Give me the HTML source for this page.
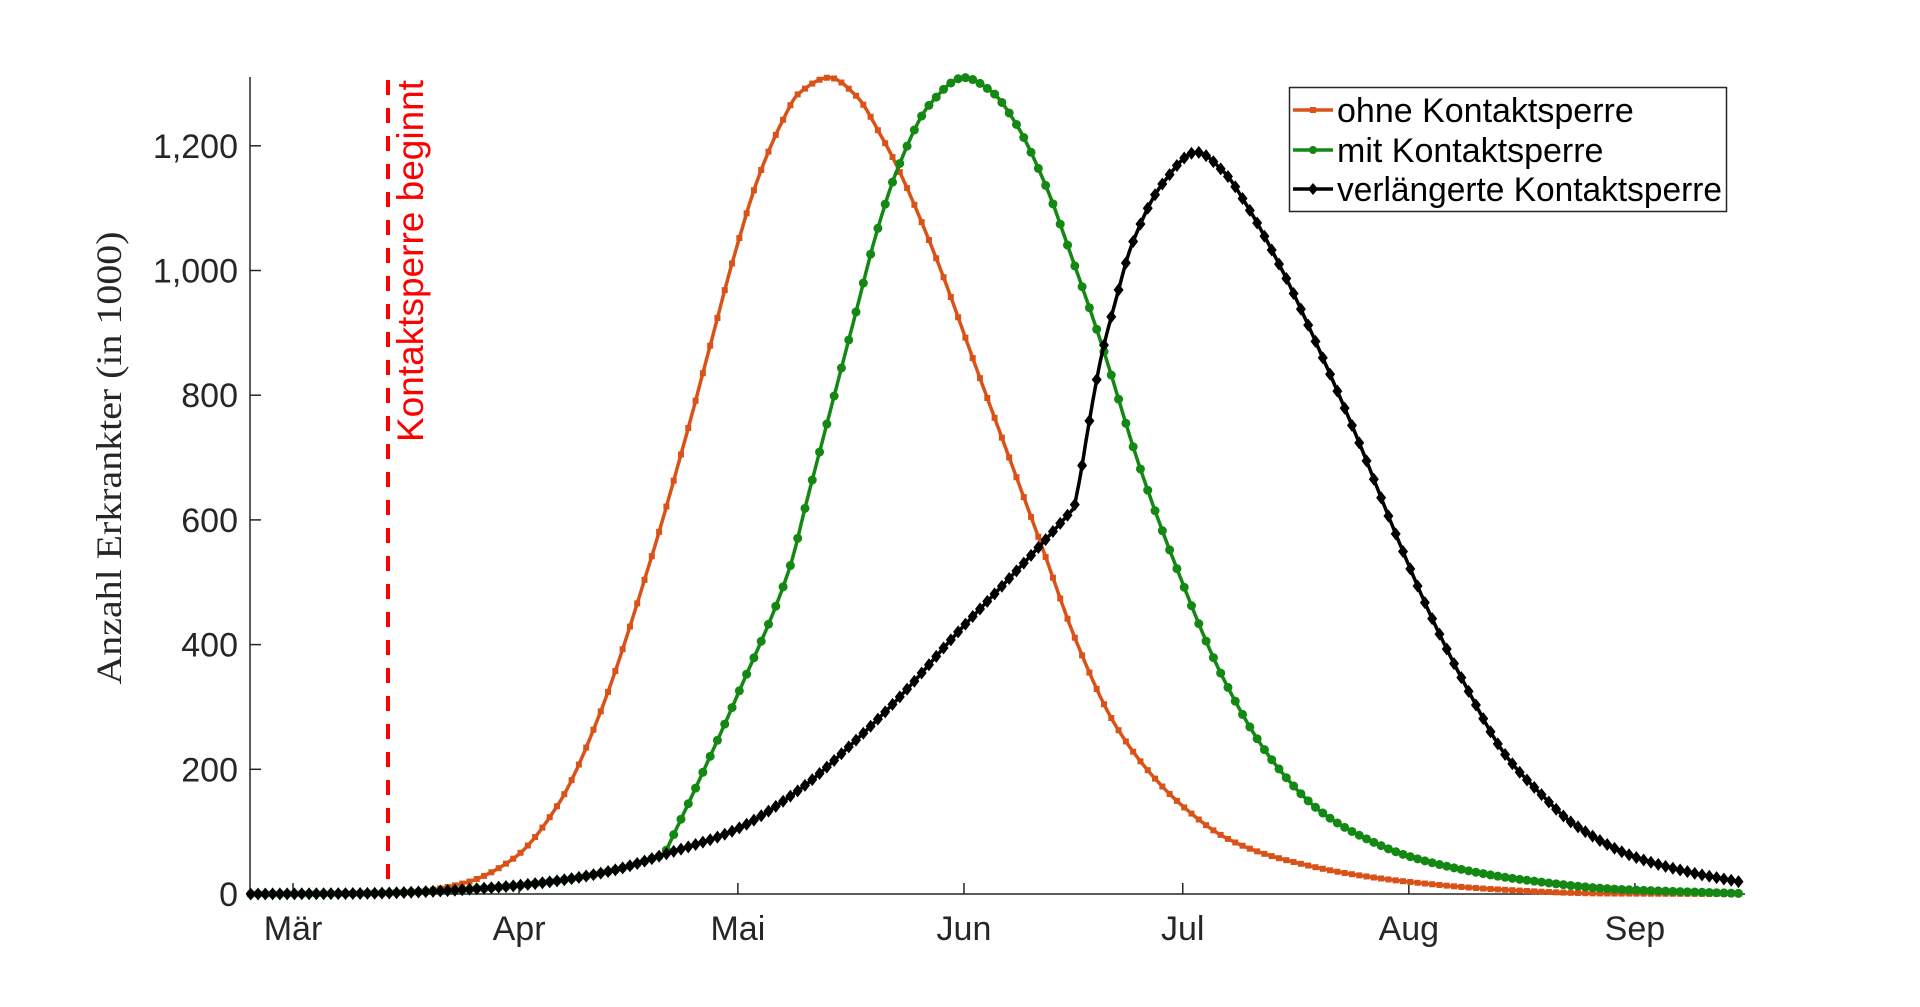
<!DOCTYPE html>
<html><head><meta charset="utf-8"><style>
html,body{margin:0;padding:0;background:#fff;width:1920px;height:1007px;overflow:hidden}
svg{display:block}
</style></head><body>
<svg id="s" width="1920" height="1007" viewBox="0 0 1920 1007" xmlns="http://www.w3.org/2000/svg">
<rect width="1920" height="1007" fill="#fff"/>
<g id="axes" stroke="#262626" stroke-width="1.5" fill="none">
<line x1="250" y1="77" x2="250" y2="894.5"/>
<line x1="249.5" y1="894" x2="1745" y2="894"/>
</g>
<g id="ticks" stroke="#262626" stroke-width="1.5"></g>
<g font-family="'Liberation Sans',Arial,sans-serif" font-size="34" fill="#262626" text-anchor="end" id="ylab"></g>
<g font-family="'Liberation Sans',Arial,sans-serif" font-size="34" fill="#262626" text-anchor="middle" id="xlab"></g>
<text transform="translate(121,458) rotate(-90)" text-anchor="middle" font-family="'Liberation Serif','DejaVu Serif',serif" font-size="36" fill="#262626" textLength="453" lengthAdjust="spacingAndGlyphs">Anzahl Erkrankter (in 1000)</text>
<line x1="388" y1="80" x2="388" y2="894" stroke="#ff0000" stroke-width="4" stroke-dasharray="15,13"/>
<text transform="translate(423,442) rotate(-90)" font-family="'Liberation Sans',Arial,sans-serif" font-size="37" fill="#ff0000" textLength="362" lengthAdjust="spacingAndGlyphs">Kontaktsperre beginnt</text>
<g id="series"></g>
<g id="legend">
<rect x="1289.5" y="87.5" width="437" height="124" fill="#fff" stroke="#262626" stroke-width="1.5"/>
<line x1="1293" y1="110" x2="1333" y2="110" stroke="#d95319" stroke-width="3.5"/>
<rect x="1310" y="107" width="6" height="6" fill="#d95319"/>
<line x1="1293" y1="150" x2="1333" y2="150" stroke="#138813" stroke-width="3.5"/>
<circle cx="1313" cy="150" r="4" fill="#138813"/>
<line x1="1293" y1="189" x2="1333" y2="189" stroke="#000" stroke-width="3.5"/>
<polygon points="1313,183 1318,189 1313,195 1308,189" fill="#000"/>
<g font-family="'Liberation Sans',Arial,sans-serif" font-size="34" fill="#000">
<text x="1337" y="122">ohne Kontaktsperre</text>
<text x="1337" y="162">mit Kontaktsperre</text>
<text x="1337" y="201" textLength="385" lengthAdjust="spacingAndGlyphs">verlängerte Kontaktsperre</text>
</g>
</g>
</svg>
<script>
(function(){
var NS="http://www.w3.org/2000/svg";
function el(t,a,p){var e=document.createElementNS(NS,t);for(var k in a)e.setAttribute(k,a[k]);p.appendChild(e);return e;}
var ticks=document.getElementById('ticks'),yl=document.getElementById('ylab'),xl=document.getElementById('xlab');
[0,200,400,600,800,1000,1200].forEach(function(v){var y=894-v*0.6235;
 el('line',{x1:250,y1:y,x2:261,y2:y},ticks);
 var t=el('text',{x:238,y:y+12},yl);t.textContent=v.toLocaleString('en-US');});
[['Mär',0],['Apr',31],['Mai',61],['Jun',92],['Jul',122],['Aug',153],['Sep',184]].forEach(function(m){var x=293+7.293*m[1];
 el('line',{x1:x,y1:894,x2:x,y2:883},ticks);
 var t=el('text',{x:x,y:940},xl);t.textContent=m[0];});
function fy(y){return y*1.2222+0.6;}
function mono(pts){
 var n=pts.length,xs=pts.map(p=>p[0]),ys=pts.map(p=>p[1]),d=[],m=[];
 for(var i=0;i<n-1;i++)d.push((ys[i+1]-ys[i])/(xs[i+1]-xs[i]));
 m[0]=d[0];m[n-1]=d[n-2];
 for(i=1;i<n-1;i++){m[i]=(d[i-1]*d[i]<=0)?0:2/(1/d[i-1]+1/d[i]);}
 return function(x){if(x<=xs[0])return ys[0]+(x-xs[0])*m[0];if(x>=xs[n-1])return ys[n-1];
  var k=0;while(xs[k+1]<x)k++;var h=xs[k+1]-xs[k],t=(x-xs[k])/h,t2=t*t,t3=t2*t;
  return (2*t3-3*t2+1)*ys[k]+(t3-2*t2+t)*h*m[k]+(-2*t3+3*t2)*ys[k+1]+(t3-t2)*h*m[k+1];};}
function split(f1,f2,xk){return function(x){return x<=xk?f1(x):f2(x);};}
var bPre=mono([[205,731],[300,730.5],[350,729],[400,726],[450,721],[500,712],[545,698],[600,679],[653,646],[702,603],[740,565],[780,520],[820,478],[851,445],[878,415]]);
var bPost=mono([[878,415],[884,383],[889,352],[900,292],[912,245],[925,200],[950,150],[978,124],[1000,140],[1018,166],[1050,225],[1080,290],[1110,360],[1140,435],[1170,505],[1200,565],[1230,617],[1260,650],[1285,673],[1334,700],[1380,713],[1421,721]]);
var bf=split(bPre,bPost,878);
var gPost=mono([[543.8,697.5],[571.7,638],[604.4,565],[645,466],[660,408],[680,331],[700,254],[716,192],[734,137],[760,85],[788,63],[810,74],[830,100],[855,152],[876,210],[900,280],[931,380],[960,460],[1000,555],[1040,622],[1080,664],[1117,686],[1151,700],[1200,712],[1242,719],[1320,727],[1421,730.5]]);
var gf=split(bPre,gPost,543.8);
var of=mono([[205,731],[300,730.5],[340,729],[380,722],[420,702],[457,657],[490,585],[532,458],[560,360],[580,285],[600,210],[620,145],[640,98],[653,76],[678,63],[700,78],[721,112],[734,137],[765,210],[800,306],[851,445],[880,525],[910,590],[940,632],[970,662],[1000,684],[1030,697],[1062,706],[1100,714],[1151,721],[1220,727],[1307,730.5],[1421,731]]);
var ser=document.getElementById('series');
var d0=-5.8,d1=198.2;
function draw(f,color,kind){
 var pts=[];for(var d=d0;d<=d1+0.001;d+=0.25){var X=293+7.293*d;pts.push([X,fy(f((X+0.9)/1.2245))]);}
 el('polyline',{points:pts.map(p=>p[0].toFixed(1)+','+p[1].toFixed(1)).join(' '),fill:'none',stroke:color,'stroke-width':3.5,'stroke-linejoin':'round'},ser);
 for(d=d0;d<=d1+0.001;d+=1){var X=293+7.293*d,Y=fy(f((X+0.9)/1.2245));
  if(kind=='s')el('rect',{x:X-3,y:Y-3,width:6,height:6,fill:color},ser);
  else if(kind=='c')el('circle',{cx:X,cy:Y,r:4.5,fill:color},ser);
  else el('polygon',{points:X+','+(Y-6.5)+' '+(X+5)+','+Y+' '+X+','+(Y+6.5)+' '+(X-5)+','+Y,fill:color},ser);}
}
draw(of,'#d95319','s');
draw(gf,'#138813','c');
draw(bf,'#000000','d');
})();
</script>
</body></html>
